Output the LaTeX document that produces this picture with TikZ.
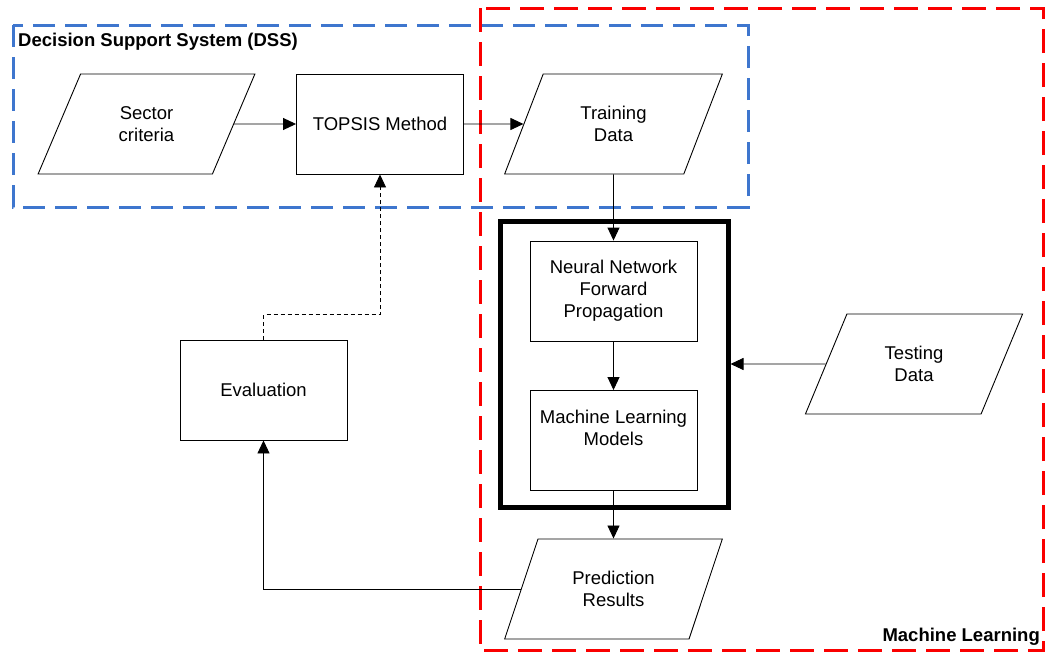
\documentclass[tikz,border=0pt]{standalone}
\usepackage{fontspec}
\setmainfont{Liberation Sans}
\usetikzlibrary{shapes.geometric,arrows.meta}
\definecolor{dssblue}{RGB}{62,118,206}
\definecolor{mlred}{RGB}{250,0,0}
\tikzset{
  every node/.style={font=\fontsize{18.5}{22}\selectfont, align=center},
  procbox/.style={draw, line width=0.9pt, minimum width=167pt, minimum height=100pt, inner sep=0pt},
  databox/.style={draw, line width=0.9pt, trapezium, trapezium left angle=63, trapezium right angle=117,
    trapezium stretches=true, minimum width=218pt, minimum height=100pt, inner sep=0pt},
  groupbox/.style={draw, line width=5pt, minimum width=228pt, minimum height=286pt, inner sep=0pt},
  flow/.style={line width=0.9pt, -{Triangle[length=13pt,width=12pt]}},
  feedback/.style={flow, dash pattern=on 4pt off 3pt},
  title/.style={font=\bfseries\fontsize{18.5}{22}\selectfont, inner sep=0pt}
}
\begin{document}
\begin{tikzpicture}[x=1pt,y=-1pt]
  \useasboundingbox (0,0) rectangle (1049,653);

  % group frames
  \draw[dssblue, line width=3pt, dash pattern=on 22pt off 10pt] (13,25) rectangle (748,207);
  \draw[mlred, line width=3pt, dash pattern=on 24pt off 10pt] (480,8) rectangle (1043,650);
  \node[title, anchor=base west] (dsslabel) at (18,46) {Decision Support System (DSS)};
  \node[title, anchor=base east] (mllabel) at (1040,641) {Machine Learning};

  % decision support part
  \node[databox] (sc) at (146.5,124) {Sector\\criteria};
  \node[procbox] (tp) at (380,124) {TOPSIS Method};
  \node[databox] (td) at (613.5,124) {Training\\Data};

  % machine learning part
  \node[groupbox] (nnml) at (614,364) {};
  \node[procbox] (nn) at (613.5,291) {Neural Network\\Forward\\Propagation};
  \node[procbox] (ml) at (613.5,440.5) {Machine Learning\\Models\\[4pt]};
  \node[databox] (ts) at (914,364) {Testing\\Data};
  \node[databox] (pr) at (613.5,589) {Prediction\\Results};
  \node[procbox] (ev) at (263.5,390) {Evaluation};

  % connectors
  \draw[flow] (sc.east) -- (tp.west);
  \draw[flow] (tp.east) -- (td.west);
  \draw[flow] (td.south) -- (nn.north);
  \draw[flow] (nn.south) -- (ml.north);
  \draw[flow] (ts.west) -- (nnml.east);
  \draw[flow] (ml.south) -- (pr.north);
  \draw[flow] (pr.west) -| (ev.south);
  \draw[feedback] (ev.north) -- ++(0,-25) -| (tp.south);
\end{tikzpicture}
\end{document}
